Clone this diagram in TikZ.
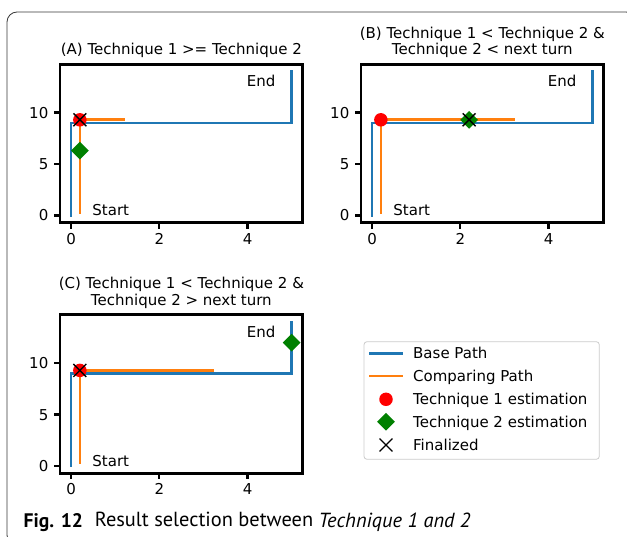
\documentclass[tikz,border=0pt]{standalone}
\usepackage{fontspec}
\setmainfont{DejaVu Sans}
\newfontfamily\capfont{PT Sans}
\usetikzlibrary{shapes.geometric,shapes.misc}

\definecolor{mplblue}{HTML}{1F77B4}
\definecolor{mplorange}{HTML}{FF7F0E}
\definecolor{mplgreen}{HTML}{008000}
\definecolor{mplred}{HTML}{FF0000}
\definecolor{framegray}{HTML}{3A3A3A}
\definecolor{legendgray}{HTML}{CCCCCC}

\tikzset{
  plotfont/.style={font=\fontsize{15}{16.5}\selectfont},
  basepath/.style={mplblue, line width=2.7pt, line cap=rect, line join=miter},
  comppath/.style={mplorange, line width=2.7pt, line cap=rect, line join=miter},
  axframe/.style={draw=black, line width=2.7pt},
  tickmark/.style={black, line width=2.4pt},
  ticklabel/.style={plotfont, inner sep=0pt},
  paneltitle/.style={plotfont, align=center, anchor=south, inner sep=0pt},
  t1mark/.style={circle, fill=mplred, minimum size=13.5pt, inner sep=0pt},
  t2mark/.style={diamond, fill=mplgreen, minimum width=18pt, minimum height=18pt, inner sep=0pt},
  finmark/.style={cross out, draw=black, line width=1.4pt, minimum size=11.5pt, inner sep=0pt},
  legendtext/.style={plotfont, anchor=base west, inner sep=0pt},
}

% One subplot: #1 name prefix, #2 data origin, #3 title,
% #4 end of the comparing path, #5 technique 2 estimate, #6 finalized point
\newcommand{\drawpanel}[6]{%
\begin{scope}[shift={#2}, x=44.13pt, y=10.29pt]
  \draw[basepath] (0,0) -- (0,9) -- (5,9) -- (5,14);
  \draw[comppath] (0.2,0.3) -- (0.2,9.3) -- (#4,9.3);
  \node[t1mark] (#1-t1) at (0.2,9.3) {};
  \node[t2mark] (#1-t2) at #5 {};
  \node[finmark] (#1-fin) at #6 {};
  \node[plotfont, anchor=base west, inner sep=0pt] (#1-start) at (0.48,0) {Start};
  \node[plotfont, anchor=base west, inner sep=0pt] (#1-end) at (3.98,12.5) {End};
  \draw[axframe] (-0.25,-0.7) rectangle (5.25,14.7);
  \foreach \t in {0,2,4}{
    \draw[tickmark] (\t,-0.7) -- ++(0,-6pt);
    \node[ticklabel, anchor=north] (#1-x\t) at ([yshift=-10.3pt]\t,-0.7) {\t};
  }
  \foreach \t in {0,5,10}{
    \draw[tickmark] (-0.25,\t) -- ++(-6pt,0);
    \node[ticklabel, anchor=east] (#1-y\t) at ([xshift=-11.5pt]-0.25,\t) {\t};
  }
  \node[paneltitle] (#1-title) at ([yshift=6.2pt]2.5,14.7) {#3};
\end{scope}}

\begin{document}
\begin{tikzpicture}[x=1pt, y=1pt]
  \useasboundingbox (0,0) rectangle (627,536);
  \fill[white] (0,0) rectangle (627,536);
  \clip (0,0) rectangle (627,536);

  % surrounding figure frame
  \draw[framegray, line width=0.8pt, rounded corners=10pt] (7,524) rectangle (636,-9);

  \drawpanel{A}{(71.03,320.5)}{(A) Technique 1 >= Technique 2}{1.2}{(0.2,6.3)}{(0.2,9.3)}
  \drawpanel{B}{(372.03,320.5)}{(B) Technique 1 < Technique 2 \&\\Technique 2 < next turn}{3.2}{(2.2,9.3)}{(2.2,9.3)}
  \drawpanel{C}{(71.03,69.9)}{(C) Technique 1 < Technique 2 \&\\Technique 2 > next turn}{3.2}{(5,12)}{(0.2,9.3)}

  % legend
  \draw[legendgray, fill=white, line width=0.8pt, rounded corners=3pt] (364,194.3) rectangle (599.3,76.7);
  \coordinate (lg1a) at (369.3,182.7); \coordinate (lg1b) at (402.7,182.7);
  \coordinate (lg2a) at (369.3,160);   \coordinate (lg2b) at (402.7,160);
  \draw[basepath, line cap=butt] (lg1a) -- (lg1b);
  \draw[comppath, line cap=butt] (lg2a) -- (lg2b);
  \node[t1mark] (lg3) at (386,136.7) {};
  \node[t2mark] (lg4) at (386,114.3) {};
  \node[finmark] (lg5) at (386,91) {};
  \node[legendtext] (lt1) at (413,177.3) {Base Path};
  \node[legendtext] (lt2) at (413,154.6) {Comparing Path};
  \node[legendtext] (lt3) at (413,131.3) {Technique 1 estimation};
  \node[legendtext] (lt4) at (413,108.9) {Technique 2 estimation};
  \node[legendtext] (lt5) at (413,85.6) {Finalized};

  % caption
  \node[anchor=base west, inner sep=0pt, font=\capfont\fontsize{19.6}{22}\selectfont] (caption) at (23.5,9)
    {\textbf{Fig. 12}\hspace{0.6em}{\fontsize{20.4}{22}\selectfont Result selection between \textit{Technique 1 and 2}}};
\end{tikzpicture}
\end{document}
